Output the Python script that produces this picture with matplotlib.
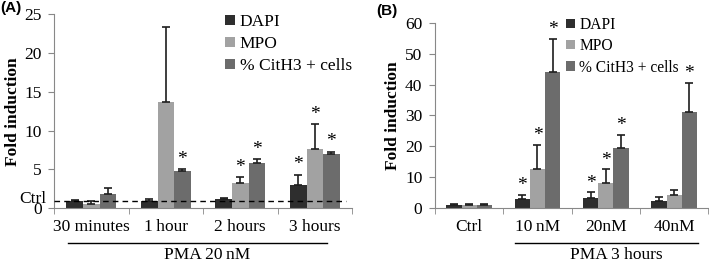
import numpy as np
import matplotlib
matplotlib.use("Agg")
import matplotlib.pyplot as plt
import matplotlib.transforms as mtransforms

# panel A: PMA 20 nM time course
cats_a = ["30 minutes", "1\u2009hour", "2 hours", "3 hours"]
dapi_a = [1.0, 1.0, 1.2, 3.0]
dapi_a_err = [0.1, 0.15, 0.1, 1.3]
mpo_a = [0.5, 13.7, 3.3, 7.6]
mpo_a_err = [0.5, 9.7, 0.7, 3.2]
cit_a = [1.8, 4.8, 5.8, 7.0]
cit_a_err = [0.8, 0.2, 0.5, 0.3]
star_a = [[False, False, False, True],
          [False, False, True, True],
          [False, True, True, True]]

# panel B: PMA 3 hours dose
cats_b = ["Ctrl", "10\u2009nM", "20nM", "40nM"]
dapi_b = [0.8, 2.8, 3.2, 2.2]
dapi_b_err = [0.2, 1.3, 1.8, 1.1]
mpo_b = [0.8, 12.4, 8.0, 4.0]
mpo_b_err = [0.2, 8.1, 4.4, 1.6]
cit_b = [0.9, 44.0, 19.4, 31.0]
cit_b_err = [0.3, 11.0, 4.2, 9.6]
star_b = [[False, True, True, False],
          [False, True, True, False],
          [False, True, True, True]]

labels = ["DAPI", "MPO", "% CitH3 + cells"]
colors = ["#2e2e2e", "#a2a2a2", "#6c6c6c"]

plt.rcParams["font.family"] = "Liberation Serif"
plt.rcParams["font.size"] = 12.5

fig = plt.figure(figsize=(7.09, 2.64), dpi=100)
axA = fig.add_axes([0.0762, 0.211, 0.4203, 0.735])
axB = fig.add_axes([0.6135, 0.214, 0.3855, 0.698])

bw = 0.222


def draw(ax, cats, series, errs, stars, ymax, step, star_pad):
    x = np.arange(len(cats))
    for i, (vals, err) in enumerate(zip(series, errs)):
        pos = x + (i - 1) * bw
        ax.bar(pos, vals, bw, color=colors[i], label=labels[i], zorder=2)
        ax.errorbar(pos, vals, yerr=[np.zeros(len(vals)), err], fmt="none",
                    ecolor="#1e1e1e", elinewidth=1.2, capsize=3, capthick=1.2, zorder=3)
        for j in range(len(cats)):
            if stars[i][j]:
                ax.text(pos[j], vals[j] + err[j] + star_pad, "*", ha="center",
                        va="bottom", fontsize=14)
    ax.set_xlim(-0.5, len(cats) - 0.5)
    ax.set_ylim(0, ymax)
    ax.set_yticks(np.arange(0, ymax + 1, step))
    ax.set_xticks(x)
    ax.set_xticklabels(cats, fontsize=12.5)
    ax.set_xticks(np.arange(-0.5, len(cats)), minor=True)
    ax.tick_params(axis="x", which="major", length=0, pad=8)
    ax.tick_params(axis="x", which="minor", length=4, color="#888888", direction="out")
    ax.tick_params(axis="y", length=4, color="#888888", direction="out",
                   labelsize=12.5, pad=5)
    for s in ["top", "right"]:
        ax.spines[s].set_visible(False)
    for s in ["left", "bottom"]:
        ax.spines[s].set_color("#888888")
    ax.set_ylabel("Fold induction", fontweight="bold", fontsize=12.5)


draw(axA, cats_a, [dapi_a, mpo_a, cit_a], [dapi_a_err, mpo_a_err, cit_a_err],
     star_a, 25, 5, 0.2)
draw(axB, cats_b, [dapi_b, mpo_b, cit_b], [dapi_b_err, mpo_b_err, cit_b_err],
     star_b, 60, 10, 0.2)

for ax, anchor, fs in [(axA, (0.574, 1.0), 12.5), (axB, (0.48, 1.035), 11.2)]:
    ax.legend(loc="upper left", bbox_to_anchor=anchor, frameon=False,
              handlelength=0.55, handleheight=0.55, handletextpad=0.3,
              labelspacing=0.35, borderpad=0, borderaxespad=0, fontsize=fs)

# Ctrl reference line in panel A
axA.axhline(1, xmin=0, xmax=0.98, color="black", linestyle=(0, (4, 3)), lw=1, zorder=4)
tr = mtransforms.blended_transform_factory(axA.transAxes, axA.transData)
axA.text(-0.025, 1.2, "Ctrl", transform=tr, ha="right", va="center", fontsize=12.5)

axA.yaxis.set_label_coords(-0.11, 0.5)
axB.yaxis.set_label_coords(-0.124, 0.5)

# group brackets under the axes
for ax, x0, x1, xc, yl, yt, txt in [
        (axA, -0.31, 3.17, 1.56, -0.177, -0.241, "PMA 20\u2009nM"),
        (axB, 0.67, 3.35, 2.16, -0.191, -0.258, "PMA 3 hours")]:
    t = mtransforms.blended_transform_factory(ax.transData, ax.transAxes)
    ax.plot([x0, x1], [yl, yl], color="black", lw=1, transform=t, clip_on=False)
    ax.text(xc, yt, txt, transform=t, ha="center", va="center", fontsize=12.5)

fig.text(0.0, 0.998, "(A)", fontfamily="Liberation Sans", fontweight="bold",
         fontsize=11, ha="left", va="top")
fig.text(0.531, 0.985, "(B)", fontfamily="Liberation Sans", fontweight="bold",
         fontsize=11, ha="left", va="top")

fig.savefig("out.png", dpi=100)
